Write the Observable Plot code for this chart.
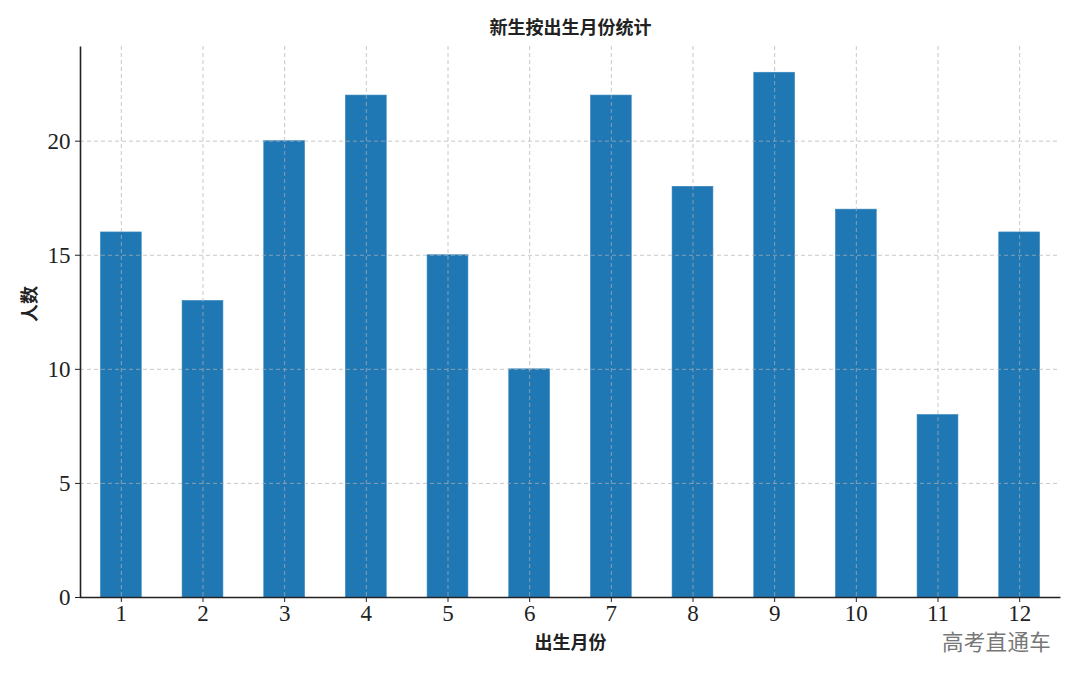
<!DOCTYPE html>
<html>
<head>
<meta charset="utf-8">
<script src="https://cdn.jsdelivr.net/npm/d3@7"></script>
<script src="https://cdn.jsdelivr.net/npm/@observablehq/plot@0.6"></script>
<style>
  html, body { margin: 0; padding: 0; background: #fff; }
  #chart { position: relative; width: 1080px; height: 675px; }
  #chart svg g[aria-label$="tick label"] { font-size: 23px; font-family: "Liberation Serif", serif; }
  #wm { position: absolute; left: 942px; top: 630px; line-height: 1; font-family: "Noto Sans CJK SC", sans-serif; font-size: 21.5px; color: #777; letter-spacing: 0.3px; }
</style>
</head>
<body>
<div id="chart"></div>
<script>
const months = ["1","2","3","4","5","6","7","8","9","10","11","12"];
const counts = [16, 13, 20, 22, 15, 10, 22, 18, 23, 17, 8, 16];
const yTicks = [0, 5, 10, 15, 20];
const title = "新生按出生月份统计";
const xLabel = "出生月份";
const yLabel = "人数";
const watermark = "高考直通车";

const data = months.map((m, i) => ({month: m, count: counts[i]}));

const W = 1080, H = 675, ML = 80, MR = 20, MT = 46, MB = 78;
const fw = W - ML - MR, fh = H - MT - MB;

const chart = Plot.plot({
  width: W, height: H,
  marginLeft: ML, marginRight: MR, marginTop: MT, marginBottom: MB,
  style: {fontFamily: "'Liberation Serif', serif", background: "#fff", color: "#222"},
  x: {domain: months, paddingInner: 0.5, paddingOuter: 0.25, round: false, label: null},
  y: {domain: [0, Math.max(...counts) * 1.05], label: null},
  marks: [
    Plot.barY(data, {x: "month", y: "count", fill: "#1f77b4", stroke: "#3a88bf", strokeWidth: 0.6}),
    Plot.gridX({stroke: "#b0b0b0", strokeOpacity: 0.7, strokeDasharray: "4,3"}),
    Plot.gridY(yTicks.filter(d => d > 0), {stroke: "#b0b0b0", strokeOpacity: 0.7, strokeDasharray: "4,3"}),
    Plot.frame({stroke: "#222", strokeWidth: 1.6, strokeDasharray: `0,${fw + fh},${fw + fh}`}),
    Plot.axisX({tickSize: 5, tickPadding: 2, fontSize: 23, label: null, stroke: "#222"}),
    Plot.axisY(yTicks, {tickSize: 5, tickPadding: 5, fontSize: 23, label: null, stroke: "#222"}),
    Plot.text([title], {frameAnchor: "top", lineAnchor: "middle", dy: -18, fontSize: 18, fontWeight: "bold", fontFamily: "'Noto Sans CJK SC', sans-serif", fill: "#222"}),
    Plot.text([xLabel], {frameAnchor: "bottom", lineAnchor: "middle", dy: 46, fontSize: 18, fontWeight: "bold", fontFamily: "'Noto Sans CJK SC', sans-serif", fill: "#222"}),
    Plot.text([yLabel], {frameAnchor: "left", dx: -50, rotate: -90, fontSize: 18, fontWeight: "bold", fontFamily: "'Noto Sans CJK SC', sans-serif", fill: "#222"})
  ]
});
document.getElementById("chart").appendChild(chart);
const wm = document.createElement("div");
wm.id = "wm";
wm.textContent = watermark;
document.getElementById("chart").appendChild(wm);
</script>
</body>
</html>
